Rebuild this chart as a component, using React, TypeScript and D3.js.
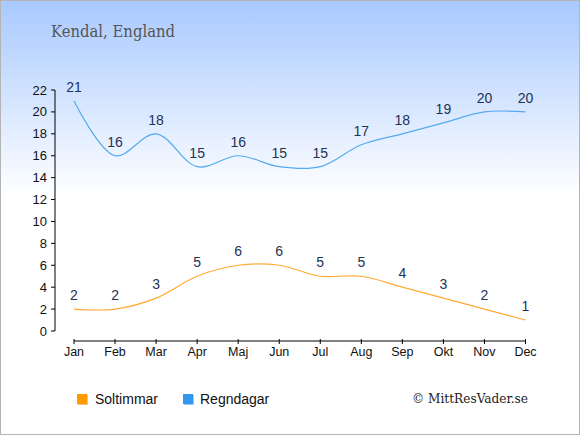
import * as d3 from "d3"

const months = ["Jan", "Feb", "Mar", "Apr", "Maj", "Jun", "Jul", "Aug", "Sep", "Okt", "Nov", "Dec"]
const soltimmar = [2, 2, 3, 5, 6, 6, 5, 5, 4, 3, 2, 1]
const regndagar = [21, 16, 18, 15, 16, 15, 15, 17, 18, 19, 20, 20]
const yTicks = d3.range(0, 23, 2)

const W = 580
const H = 435
const sans = "'Liberation Sans', Arial, sans-serif"
const serif = "'DejaVu Serif Condensed', 'DejaVu Serif', serif"

export default function App() {
  const x = d3.scalePoint().domain(months).range([74, 525.5])
  const y = d3.scaleLinear().domain([0, 22]).range([331, 90])

  const line = d3
    .line<number>()
    .x((_, i) => x(months[i])!)
    .y((d) => y(d))
    .curve(d3.curveCatmullRom.alpha(0.5))

  const series = [
    { id: "sol", values: soltimmar, stroke: "#ffaa33" },
    { id: "regn", values: regndagar, stroke: "#55aaee" },
  ]

  return (
    <>
      <style>{`body{margin:0}`}</style>
      <svg width={W} height={H} style={{ display: "block" }}>
        <defs>
          <linearGradient id="bg" x1="0" x2="0" y1="0" y2="1">
            <stop offset="0" stopColor="#a8c9ff" />
            <stop offset="0.45" stopColor="#ffffff" />
            <stop offset="1" stopColor="#ffffff" />
          </linearGradient>
        </defs>
        <rect x={0.5} y={0.5} width={W - 1} height={H - 1} fill="url(#bg)" stroke="#b4b4b4" />

        <text x={51} y={37} fontFamily={serif} fontSize={16.5} fill="#555">
          Kendal, England
        </text>

        {/* y axis */}
        <line x1={55} x2={55} y1={y(22)} y2={y(0)} stroke="#000" />
        {yTicks.map((t) => (
          <g key={t}>
            <line x1={51} x2={55} y1={y(t)} y2={y(t)} stroke="#000" />
            <text x={47} y={y(t)} dy="0.35em" textAnchor="end" fontFamily={sans} fontSize={13} fill="#111">
              {t}
            </text>
          </g>
        ))}

        {/* x axis */}
        <line x1={x("Jan")!} x2={x("Dec")!} y1={341} y2={341} stroke="#000" />
        {months.map((m) => (
          <g key={m}>
            <line x1={x(m)!} x2={x(m)!} y1={339} y2={344} stroke="#000" />
            <text x={x(m)!} y={356} textAnchor="middle" fontFamily={sans} fontSize={12.5} fill="#111">
              {m}
            </text>
          </g>
        ))}

        {series.map((s) => (
          <g key={s.id}>
            <path d={line(s.values)!} fill="none" stroke={s.stroke} strokeWidth={1.2} />
            {s.values.map((v, i) => (
              <text
                key={i}
                x={x(months[i])!}
                y={y(v) - 9}
                textAnchor="middle"
                fontFamily={sans}
                fontSize={14}
                fill="#223355"
              >
                {v}
              </text>
            ))}
          </g>
        ))}

        {/* legend */}
        <rect x={78} y={395} width={10} height={10} fill="#f5c27a" />
        <rect x={77} y={394} width={10} height={10} fill="#ff9900" />
        <text x={95} y={404} fontFamily={sans} fontSize={14} fill="#111">
          Soltimmar
        </text>
        <rect x={184} y={395} width={10} height={10} fill="#9cc8ee" />
        <rect x={183} y={394} width={10} height={10} fill="#3399ee" />
        <text x={200} y={404} fontFamily={sans} fontSize={14} fill="#111">
          Regndagar
        </text>

        <text x={528} y={403} textAnchor="end" fontFamily={serif} fontSize={13.5} fill="#222">
          © MittResVader.se
        </text>
      </svg>
    </>
  )
}
